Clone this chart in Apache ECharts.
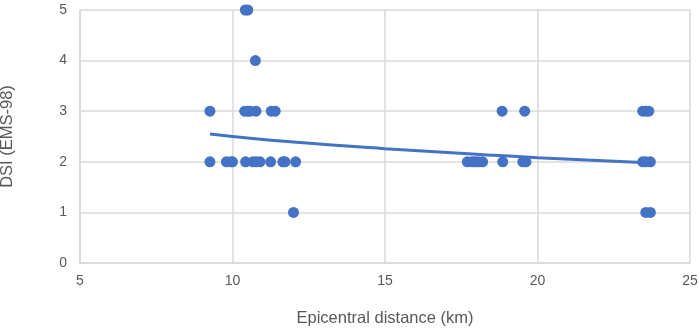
<!DOCTYPE html>
<html>
<head>
<meta charset="utf-8">
<script src="https://cdn.jsdelivr.net/npm/echarts@6/dist/echarts.min.js"></script>
<style>
  html, body { margin: 0; padding: 0; background: #fff; }
  #chart { width: 699px; height: 329px; }
</style>
</head>
<body>
<div id="chart"></div>
<script>
const distance = [
  10.42, 10.5,
  10.75,
  9.26, 10.4, 10.5, 10.58, 10.77, 11.27, 11.4, 18.84, 19.58, 23.45, 23.55, 23.65,
  9.26, 9.8, 9.95, 10.0, 10.43, 10.67, 10.78, 10.9, 11.25, 11.65, 11.72, 12.07,
  17.7, 17.85, 17.95, 18.05, 18.2, 18.86, 19.52, 19.62, 23.45, 23.55, 23.7,
  12.0, 23.55, 23.7
];
const dsi = [
  5, 5,
  4,
  3, 3, 3, 3, 3, 3, 3, 3, 3, 3, 3, 3,
  2, 2, 2, 2, 2, 2, 2, 2, 2, 2, 2, 2,
  2, 2, 2, 2, 2, 2, 2, 2, 2, 2, 2,
  1, 1, 1
];
// trend line, points
const trendX = [9.26, 10, 12, 15, 18, 20, 23.6];
const trendY = [2.55, 2.50, 2.39, 2.26, 2.15, 2.08, 1.98];

const xTicks = [5, 10, 15, 20, 25];
const yTicks = [0, 1, 2, 3, 4, 5];

const points = distance.map((d, i) => [d, dsi[i]]);
const trend = trendX.map((d, i) => [d, trendY[i]]);

const blue = '#4472C4';
const grey = '#d9d9d9';
const textColor = '#595959';
const font = 'Liberation Sans, Arial, sans-serif';

const myChart = echarts.init(document.getElementById('chart'));
const option = {
  backgroundColor: '#fff',
  animation: false,
  grid: { left: 80, right: 9, top: 10, bottom: 66, containLabel: false, outerBoundsMode: 'none' },
  xAxis: {
    type: 'value',
    min: xTicks[0],
    max: xTicks[xTicks.length - 1],
    interval: 5,
    name: 'Epicentral distance (km)',
    nameLocation: 'middle',
    nameGap: 47,
    nameTextStyle: { color: textColor, fontSize: 16.5, fontFamily: font },
    axisLine: { show: true, lineStyle: { color: grey, width: 1.5 } },
    axisTick: { show: false },
    axisLabel: { color: textColor, fontSize: 14, fontFamily: font, margin: 11 },
    splitLine: { show: true, lineStyle: { color: grey, width: 1.5 } }
  },
  yAxis: {
    type: 'value',
    min: yTicks[0],
    max: yTicks[yTicks.length - 1],
    interval: 1,
    name: 'DSI (EMS-98)',
    nameLocation: 'middle',
    nameGap: 64,
    nameRotate: 90,
    nameTextStyle: { color: textColor, fontSize: 16.5, fontFamily: font },
    axisLine: { show: true, lineStyle: { color: grey, width: 1.5 } },
    axisTick: { show: false },
    axisLabel: { color: textColor, fontSize: 14, fontFamily: font, margin: 13 },
    splitLine: { show: true, lineStyle: { color: grey, width: 1.5 } }
  },
  series: [
    {
      type: 'scatter',
      data: points,
      symbol: 'circle',
      symbolSize: 11,
      itemStyle: { color: blue, opacity: 1 },
      z: 3
    },
    {
      type: 'line',
      data: trend,
      smooth: true,
      showSymbol: false,
      lineStyle: { color: blue, width: 3 },
      z: 2
    }
  ]
};
myChart.setOption(option);
</script>
</body>
</html>
